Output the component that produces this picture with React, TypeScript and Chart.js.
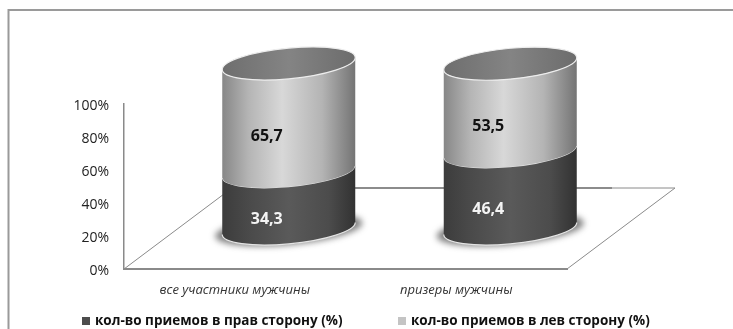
import { useEffect, useRef } from "react";
import { Chart, registerables } from "chart.js";

Chart.register(...registerables);

const categories = ["все участники мужчины", "призеры мужчины"];
const rightSideShare = [34.3, 46.4];
const leftSideShare = [65.7, 53.5];
const rightSideLabel = "кол-во приемов в прав сторону (%)";
const leftSideLabel = "кол-во приемов в лев сторону (%)";
const axisColor = "#8a8a8a";
const font = "'Open Sans', 'Noto Sans', sans-serif";

// Depth of the floor plane; columns stand halfway back on it.
const FLOOR_DX = 108;
const FLOOR_DY = 81;
const TILT = 0.09;
const RIM_RY = 15.4;

type Ramp = [number, string][];
const ramps: Record<string, Ramp> = {
  low: [[0, "#3c3c3c"], [0.2, "#4a4a4a"], [0.5, "#5a5a5a"], [0.8, "#4c4c4c"], [1, "#323232"]],
  high: [[0, "#878787"], [0.2, "#b5b5b5"], [0.45, "#d8d8d8"], [0.75, "#b4b4b4"], [1, "#747474"]],
  cap: [[0, "#6e6e6e"], [0.5, "#848484"], [1, "#6c6c6c"]],
};

function rimPath(ctx: CanvasRenderingContext2D, cx: number, cy: number, rx: number, from: number, to: number, ccw = false) {
  ctx.save();
  ctx.transform(1, -TILT, 0, 1, cx, cy);
  ctx.ellipse(0, 0, rx, RIM_RY, 0, from, to, ccw);
  ctx.restore();
}

function fillRamp(ctx: CanvasRenderingContext2D, left: number, right: number, ramp: Ramp) {
  const g = ctx.createLinearGradient(left, 0, right, 0);
  ramp.forEach(([p, c]) => g.addColorStop(p, c));
  ctx.fillStyle = g;
  ctx.fill();
}

const cylinderPlugin = {
  id: "cylinders",
  beforeDatasetsDraw(chart: any) {
    const { ctx, chartArea: a } = chart;
    const backY = a.bottom - FLOOR_DY;
    // Floor plane behind the columns: thin sides, heavier back edge.
    ctx.save();
    ctx.strokeStyle = "#8a8a8a";
    ctx.lineWidth = 1;
    ctx.beginPath();
    ctx.moveTo(a.left, a.bottom);
    ctx.lineTo(a.left + FLOOR_DX, backY);
    ctx.lineTo(a.right + FLOOR_DX, backY);
    ctx.lineTo(a.right, a.bottom);
    ctx.stroke();
    ctx.strokeStyle = "#7a7a7a";
    ctx.lineWidth = 1.6;
    ctx.beginPath();
    ctx.moveTo(a.left + FLOOR_DX, backY);
    ctx.lineTo(a.right + FLOOR_DX / 2 - 9, backY);
    ctx.stroke();
    ctx.restore();
    // Soft contact shadows under each column.
    const first = chart.getDatasetMeta(0);
    first.data.forEach((bar: any) => {
      const cx = bar.x + FLOOR_DX / 2;
      const cy = bar.base - FLOOR_DY / 2;
      ctx.save();
      ctx.filter = "blur(3px)";
      ctx.fillStyle = "rgba(60,60,60,0.65)";
      ctx.beginPath();
      rimPath(ctx, cx, cy + 1, bar.width / 2 + 7, 0, Math.PI * 2);
      ctx.fill();
      ctx.restore();
    });
  },
  // Columns replace the flat rectangles; the bar elements still supply their geometry.
  beforeDatasetDraw(chart: any, args: any) {
    const { ctx } = chart;
    const meta = chart.getDatasetMeta(args.index);
    const isTop = args.index === 1;
    meta.data.forEach((bar: any, i: number) => {
      const rx = bar.width / 2;
      const cx = bar.x + FLOOR_DX / 2;
      const yLow = bar.base - FLOOR_DY / 2;
      const yHigh = bar.y - FLOOR_DY / 2;
      const left = cx - rx;
      const right = cx + rx;
      ctx.save();
      ctx.beginPath();
      rimPath(ctx, cx, yLow, rx, Math.PI, 0, true);
      rimPath(ctx, cx, yHigh, rx, 0, Math.PI);
      ctx.closePath();
      fillRamp(ctx, left, right, isTop ? ramps.high : ramps.low);
      // Light rim along the front edge of each section.
      ctx.strokeStyle = "#e4e4e4";
      ctx.lineWidth = 1.2;
      ctx.beginPath();
      rimPath(ctx, cx, yLow, rx, Math.PI, 0, true);
      ctx.stroke();
      if (isTop) {
        ctx.beginPath();
        rimPath(ctx, cx, yHigh, rx, 0, Math.PI * 2);
        fillRamp(ctx, left, right, ramps.cap);
        ctx.strokeStyle = "#ededed";
        ctx.stroke();
      }
      ctx.restore();
      // Value label with a decimal comma.
      ctx.save();
      const value = chart.data.datasets[args.index].data[i];
      ctx.font = `bold 16px ${font}`;
      ctx.fillStyle = isTop ? "#111111" : "#f4f4f4";
      ctx.textAlign = "center";
      ctx.textBaseline = "middle";
      ctx.fillText(String(value).replace(".", ","), cx - 22, (yLow + yHigh) / 2 + 19);
      ctx.restore();
    });
    return false;
  },
  afterDraw(chart: any) {
    const { ctx } = chart;
    ctx.save();
    // Outer frame: open on the right and along the bottom.
    ctx.strokeStyle = "#9a9a9a";
    ctx.lineWidth = 2;
    ctx.beginPath();
    ctx.moveTo(8.5, 329);
    ctx.lineTo(8.5, 10);
    ctx.lineTo(733, 10);
    ctx.stroke();
    // Legend row.
    const items = [
      { x: 82, text: rightSideLabel, color: "#4d4d4d" },
      { x: 398, text: leftSideLabel, color: "#c4c4c4" },
    ];
    ctx.font = `bold 13.5px ${font}`;
    ctx.textBaseline = "middle";
    items.forEach((it) => {
      ctx.fillStyle = it.color;
      ctx.fillRect(it.x, 317, 8, 8);
      ctx.fillStyle = "#111111";
      ctx.fillText(it.text, it.x + 13, 321);
    });
    ctx.restore();
  },
};

export default function App() {
  const ref = useRef<HTMLCanvasElement>(null);
  useEffect(() => {
    const chart = new Chart(ref.current!, {
      type: "bar",
      data: {
        labels: categories,
        datasets: [
          { label: rightSideLabel, data: rightSideShare, backgroundColor: "#4d4d4d", barThickness: 133 },
          { label: leftSideLabel, data: leftSideShare, backgroundColor: "#c4c4c4", barThickness: 133 },
        ],
      },
      options: {
        responsive: false,
        animation: false,
        layout: { padding: { top: 104, right: 166, left: 0, bottom: 0 } },
        plugins: { legend: { display: false }, tooltip: { enabled: false } },
        scales: {
          x: {
            stacked: true,
            afterFit: (s: any) => { s.height = 60; },
            grid: { display: false },
            border: { color: axisColor, width: 2 },
            ticks: { color: "#333333", padding: 5, maxRotation: 0, font: { family: font, size: 13, style: "italic" } },
          },
          y: {
            stacked: true,
            min: 0,
            max: 100,
            afterFit: (s: any) => { s.width = 124; },
            grid: { display: false, drawTicks: false },
            border: { color: axisColor, width: 1.5 },
            ticks: { stepSize: 20, color: "#222222", padding: 15, labelOffset: 2, callback: (v: any) => `${v}%`, font: { family: font, size: 14 } },
          },
        },
      },
      plugins: [cylinderPlugin],
    });
    return () => chart.destroy();
  }, []);
  return (
    <div style={{ position: "absolute", left: 0, top: 0, width: 733, height: 329, background: "#ffffff" }}>
      <canvas ref={ref} width={733} height={329} style={{ display: "block" }} />
    </div>
  );
}
